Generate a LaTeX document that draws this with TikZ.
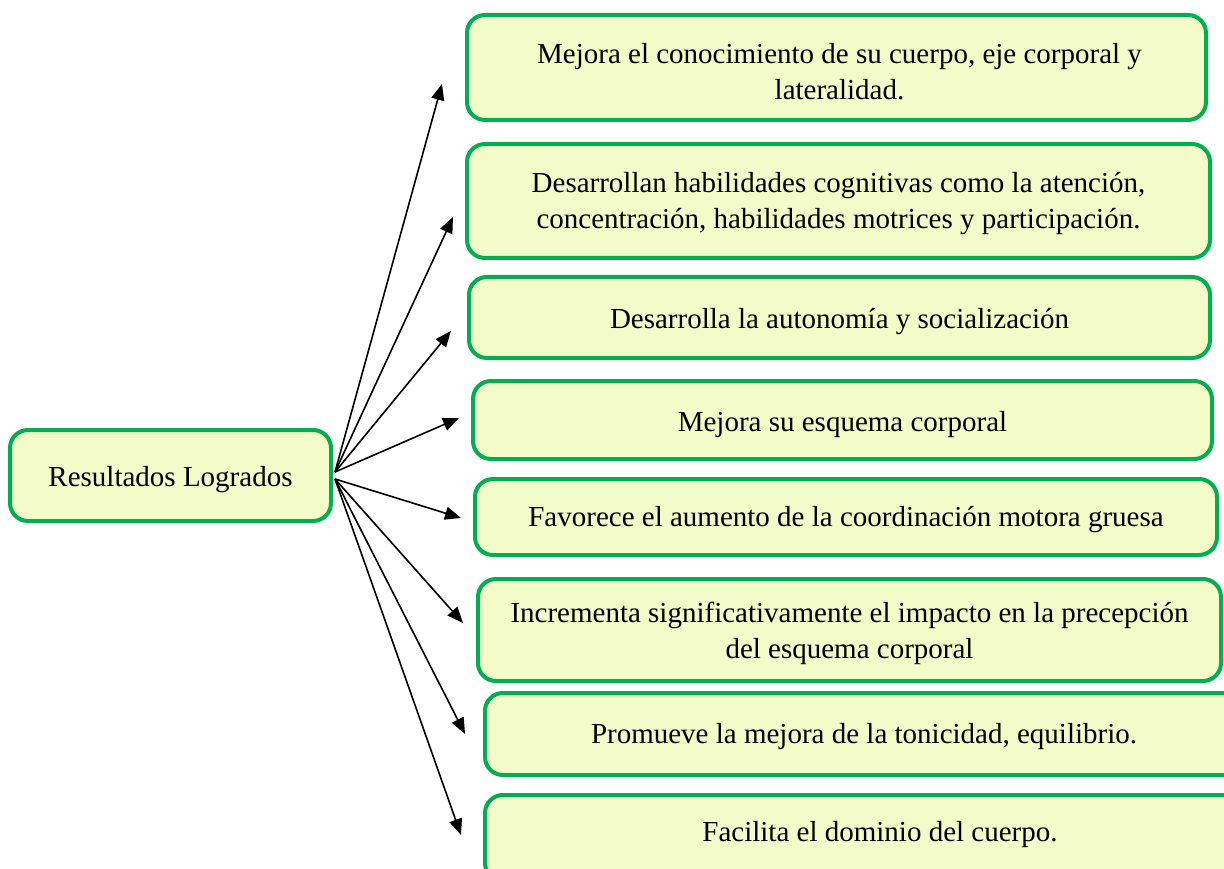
\documentclass[tikz,border=0pt]{standalone}
\usepackage{fontspec}
\setmainfont{Liberation Serif}
\usetikzlibrary{arrows.meta}
\definecolor{boxgreen}{RGB}{0,176,80}
\definecolor{boxfill}{RGB}{243,251,201}
\tikzset{
  res/.style={draw=boxgreen, fill=boxfill, line width=4pt, rounded corners=18pt, inner sep=0pt},
  txt/.style={align=center, inner sep=0pt, font=\fontsize{29}{36}\selectfont},
  arr/.style={line width=1.6pt, -{Triangle[length=16pt,width=13pt]}}
}
\begin{document}
\begin{tikzpicture}[x=1pt,y=-1pt]
\useasboundingbox (0,0) rectangle (1224,869);
\node[res, minimum width=321pt, minimum height=91pt] (L) at (170.5,475.5) {};
\node[txt] (Lt) at ([yshift=-4pt]L.center) {Resultados Logrados};
\node[res, minimum width=739pt, minimum height=105pt] (b1) at (836.5,67.5) {};
\node[txt] (b1t) at ([xshift=3pt,yshift=-4pt]b1.center) {Mejora el conocimiento de su cuerpo, eje corporal y\\lateralidad.};
\node[res, minimum width=743pt, minimum height=114pt] (b2) at (838.5,201) {};
\node[txt] (b2t) at ([yshift=-3pt]b2.center) {Desarrollan habilidades cognitivas como la atención,\\concentración, habilidades motrices y participación.};
\node[res, minimum width=741pt, minimum height=81pt] (b3) at (839.5,317.5) {};
\node[txt] (b3t) at ([yshift=-4pt]b3.center) {Desarrolla la autonomía y socialización};
\node[res, minimum width=739pt, minimum height=78pt] (b4) at (842.5,420) {};
\node[txt] (b4t) at ([yshift=-5pt]b4.center) {Mejora su esquema corporal};
\node[res, minimum width=742pt, minimum height=76pt] (b5) at (846,517) {};
\node[txt] (b5t) at ([yshift=-3pt]b5.center) {Favorece el aumento de la coordinación motora gruesa};
\node[res, minimum width=743pt, minimum height=102pt] (b6) at (849.5,630) {};
\node[txt] (b6t) at ([yshift=-3pt]b6.center) {Incrementa significativamente el impacto en la precepción\\del esquema corporal};
\node[res, minimum width=758pt, minimum height=82pt] (b7) at (864,734) {};
\node[txt] (b7t) at ([yshift=-3pt]b7.center) {Promueve la mejora de la tonicidad, equilibrio.};
\node[res, minimum width=790pt, minimum height=86pt] (b8) at (880,838) {};
\node[txt] (b8t) at ([yshift=3pt]b8.center) {Facilita el dominio del cuerpo.};
\coordinate (ou) at (335,472);
\coordinate (od) at (335,479);
\coordinate (t1) at (442,84);
\coordinate (t2) at (453,217);
\coordinate (t3) at (451,331);
\coordinate (t4) at (459,418);
\coordinate (t5) at (461,518);
\coordinate (t6) at (463,623);
\coordinate (t7) at (465,734);
\coordinate (t8) at (461,835);
\draw[arr] (ou) -- (t1);
\draw[arr] (ou) -- (t2);
\draw[arr] (ou) -- (t3);
\draw[arr] (ou) -- (t4);
\draw[arr] (od) -- (t5);
\draw[arr] (od) -- (t6);
\draw[arr] (od) -- (t7);
\draw[arr] (od) -- (t8);
\end{tikzpicture}
\end{document}
